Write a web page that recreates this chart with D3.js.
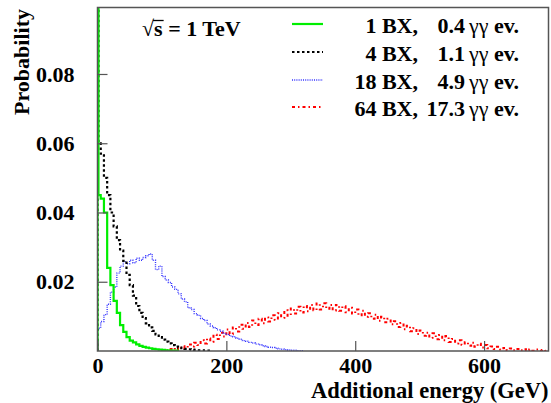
<!DOCTYPE html>
<html>
<head>
<meta charset="utf-8">
<script src="https://cdn.jsdelivr.net/npm/d3@7"></script>
<style>
  body { margin: 0; background: #fff; }
  text { font-family: "Liberation Serif", "Times New Roman", serif; font-weight: bold; fill: #000; }
</style>
</head>
<body>
<div id="chart"></div>
<script>
// axis ticks
const xMajorTicks = [0, 200, 400, 600];
const xMinorTicks = d3.range(0, 701, 50);
const yMajorTicks = [0.02, 0.04, 0.06, 0.08];
const yMinorTicks = d3.range(0.005, 0.1, 0.005);

// bin edges in GeV : first (narrow) bin holds the "no extra energy" spike
const binEdges = [0, 1.5].concat(d3.range(5, 705, 5));

// probabilities per bin
const green = [0.67, 0.045, 0.044, 0.040, 0.024, 0.019, 0.0145, 0.011, 0.0075, 0.0055,
  0.004, 0.003, 0.0025, 0.0019, 0.0015, 0.0012, 0.001, 0.0008, 0.0006, 0.0005,
  0.0004, 0.0003, 0.0002, 0.0002, 0.0001, 0.0001];

const black = [0.33, 0.060, 0.057, 0.050, 0.045, 0.040, 0.036, 0.032, 0.029, 0.026,
  0.022, 0.019, 0.016, 0.013, 0.011, 0.0095, 0.008, 0.0068, 0.0058, 0.0048,
  0.004, 0.0033, 0.0027, 0.0022, 0.0017, 0.0013, 0.001, 0.0008, 0.0006, 0.0005,
  0.0004, 0.0003, 0.0002, 0.0002, 0.0001, 0.0001];

const blue = [0.006, 0.0066, 0.0085, 0.0105, 0.0135, 0.017, 0.0185, 0.0225, 0.0245, 0.0258,
  0.0252, 0.0262, 0.0255, 0.0268, 0.0262, 0.027, 0.0275, 0.028, 0.0262, 0.0235,
  0.0245, 0.0215, 0.0205, 0.0198, 0.0185, 0.0178, 0.0165, 0.015, 0.0142, 0.0125,
  0.012, 0.0108, 0.0103, 0.0094, 0.0088, 0.0078, 0.0072, 0.0067, 0.0061, 0.0057,
  0.0051, 0.0048, 0.0043, 0.0041, 0.0037, 0.0034, 0.003, 0.0028, 0.0025, 0.0023,
  0.002, 0.0018, 0.0015, 0.0013, 0.0011, 0.001, 0.0008, 0.0006, 0.0005, 0.0004,
  0.0003, 0.0002, 0.0002, 0.0001, 0.0001];

// red starts at 100 GeV (bin index 21)
const redFirstBin = 21;
const red = [0.0003, 0.0002, 0.0006, 0.0004, 0.001, 0.0006, 0.0014, 0.0009, 0.0019, 0.0013,
  0.0024, 0.0017, 0.0031, 0.0022, 0.0036, 0.0027, 0.0047, 0.0035, 0.0053, 0.0042,
  0.0062, 0.0049, 0.0068, 0.0056, 0.0076, 0.0064, 0.0081, 0.0069, 0.0088, 0.0075,
  0.0093, 0.008, 0.0097, 0.0085, 0.0103, 0.009, 0.0109, 0.0096, 0.0118, 0.0102,
  0.0123, 0.0108, 0.0128, 0.0111, 0.013, 0.0115, 0.0133, 0.0118, 0.0137, 0.012,
  0.0138, 0.0122, 0.0133, 0.0117, 0.0133, 0.0116, 0.0129, 0.0112, 0.0125, 0.0108,
  0.012, 0.0103, 0.0116, 0.0099, 0.0109, 0.0093, 0.0105, 0.0087, 0.0099, 0.0083,
  0.0093, 0.0077, 0.0086, 0.0069, 0.0081, 0.0063, 0.0073, 0.0057, 0.0066, 0.0049,
  0.0059, 0.0044, 0.0053, 0.0038, 0.0051, 0.0034, 0.0046, 0.0031, 0.0043, 0.0026,
  0.0035, 0.0022, 0.0031, 0.0018, 0.0025, 0.0015, 0.0024, 0.0012, 0.0021, 0.001,
  0.0017, 0.0008, 0.0013, 0.0006, 0.0012, 0.0004, 0.0009, 0.0003, 0.0007, 0.0002,
  0.0006, 0.0002, 0.0005, 0.0001, 0.0004, 0.0001, 0.0004, 0.0001, 0.0003, 0.0001];

const legendBX = ["1 BX,", "4 BX,", "18 BX,", "64 BX,"];
const legendEvents = ["0.4", "1.1", "4.9", "17.3"];

const series = [
  { values: green, first: 0, color: "#00ee00", width: 2.2, dash: null },
  { values: black, first: 0, color: "#000000", width: 2.2, dash: "2.5,2.5" },
  { values: blue, first: 0, color: "#3333ff", width: 1.4, dash: "1,1.2" },
  { values: red, first: redFirstBin, color: "#ff0000", width: 2, dash: "3,3,1.5,3" },
];

const width = 551, height = 403;
const margin = { top: 7.5, right: 2.5, bottom: 52, left: 97.5 };

const svg = d3.select("#chart").append("svg")
  .attr("width", width)
  .attr("height", height);

const x = d3.scaleLinear().domain([0, 700]).range([margin.left, width - margin.right]);
const y = d3.scaleLinear().domain([0, 0.0992]).range([height - margin.bottom, margin.top]);

svg.append("defs").append("clipPath").attr("id", "plot")
  .append("rect")
  .attr("x", x(0)).attr("y", y(0.0992))
  .attr("width", x(700) - x(0)).attr("height", y(0) - y(0.0992));

// histogram outlines
const line = d3.line()
  .x((d) => x(d[0]))
  .y((d) => y(d[1]))
  .curve(d3.curveStepAfter);

function histPoints(s) {
  const pts = [[binEdges[s.first], 0]];
  s.values.forEach((v, i) => pts.push([binEdges[s.first + i], v]));
  pts.push([binEdges[s.first + s.values.length], 0]);
  return pts;
}

svg.append("g").attr("clip-path", "url(#plot)")
  .selectAll("path")
  .data(series.slice().reverse())
  .enter()
  .append("path")
  .attr("d", (d) => line(histPoints(d)))
  .attr("fill", "none")
  .attr("stroke", (d) => d.color)
  .attr("stroke-width", (d) => d.width)
  .attr("stroke-dasharray", (d) => d.dash);

// axes (ticks point inward)
const axisColor = "#555";
const gx = svg.append("g").attr("transform", `translate(0,${y(0)})`);
gx.call(d3.axisBottom(x).tickValues(xMinorTicks).tickSize(-5).tickFormat(""));
gx.call(d3.axisBottom(x).tickValues(xMajorTicks).tickSize(-10).tickPadding(6.5).tickFormat(d3.format("d")));

const gy = svg.append("g").attr("transform", `translate(${x(0)},0)`);
gy.call(d3.axisLeft(y).tickValues(yMinorTicks).tickSize(-5).tickFormat(""));
gy.call(d3.axisLeft(y).tickValues(yMajorTicks).tickSize(-10).tickPadding(23).tickFormat(d3.format(".2f")));

svg.selectAll(".domain").remove();
svg.selectAll(".tick line").attr("stroke", axisColor).attr("stroke-width", 1.2);
svg.selectAll(".tick text")
  .attr("font-family", null)
  .style("font-size", "22px")
  .attr("fill", "#000");

// frame
svg.append("rect")
  .attr("x", x(0)).attr("y", y(0.0992))
  .attr("width", x(700) - x(0)).attr("height", y(0) - y(0.0992))
  .attr("fill", "none")
  .attr("stroke", axisColor)
  .attr("stroke-width", 1.5);

// axis titles
svg.append("text")
  .attr("x", x(700))
  .attr("y", 397.5)
  .attr("text-anchor", "end")
  .style("font-size", "22.5px")
  .text("Additional energy (GeV)");

svg.append("text")
  .attr("transform", "translate(28.5,9) rotate(-90)")
  .attr("text-anchor", "end")
  .style("font-size", "22px")
  .text("Probability");

// sqrt(s) label
const rs = svg.append("text")
  .attr("x", 142)
  .attr("y", 35.5)
  .style("font-size", "22px");
rs.append("tspan").text("√");
rs.append("tspan").text("s");
rs.append("tspan").text(" = 1 TeV");
const rsNode = rs.node();
const sStart = rsNode.getStartPositionOfChar(1).x;
const sEnd = rsNode.getEndPositionOfChar(1).x;
svg.append("line")
  .attr("x1", sStart - 1).attr("x2", sEnd + 1)
  .attr("y1", 20.5).attr("y2", 20.5)
  .attr("stroke", "#000").attr("stroke-width", 1.3);

// legend
const legendY = [24, 52, 80, 107];
const legend = svg.append("g")
  .selectAll("g")
  .data(series)
  .enter()
  .append("g")
  .attr("transform", (d, i) => `translate(0,${legendY[i]})`);

legend.append("line")
  .attr("x1", 292).attr("x2", 323)
  .attr("stroke", (d) => d.color)
  .attr("stroke-width", (d) => d.width)
  .attr("stroke-dasharray", (d) => d.dash);

legend.append("text")
  .attr("x", 418).attr("y", 8.5)
  .attr("text-anchor", "end")
  .style("font-size", "22px")
  .text((d, i) => legendBX[i]);

legend.append("text")
  .attr("x", 465).attr("y", 8.5)
  .attr("text-anchor", "end")
  .style("font-size", "22px")
  .text((d, i) => legendEvents[i]);

const evText = legend.append("text")
  .attr("x", 469).attr("y", 8.5)
  .style("font-size", "22px");
evText.append("tspan").style("font-weight", "normal").text("γγ");
evText.append("tspan").text(" ev.");
</script>
</body>
</html>
